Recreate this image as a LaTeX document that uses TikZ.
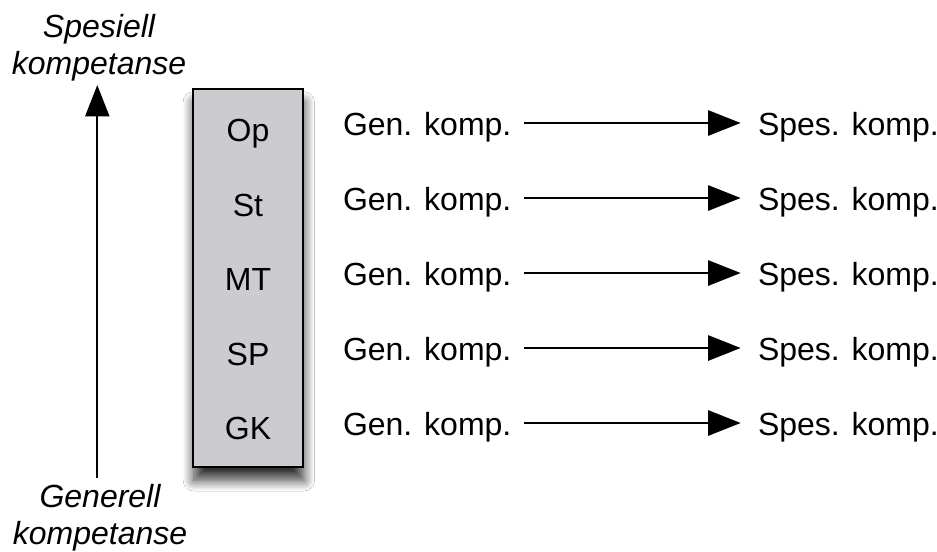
\documentclass[tikz,border=0pt]{standalone}
\usepackage{fontspec}
\setmainfont{Liberation Sans}
\usetikzlibrary{arrows.meta,shadows.blur}
\definecolor{stackgray}{RGB}{204,203,208}
\begin{document}
\begin{tikzpicture}[x=0.75pt,y=-0.75pt,
  every node/.style={inner sep=0pt,outer sep=0pt,font=\fontsize{24}{27.75}\selectfont},
  axislabel/.style={align=center,font=\fontsize{24}{27.75}\selectfont\itshape},
  stackbox/.style={draw=black,line width=1.5pt,fill=stackgray,
    blur shadow={shadow xshift=1pt,shadow yshift=-10pt,shadow blur radius=8pt,
      shadow blur steps=12,shadow opacity=80}},
  level/.style={anchor=base},
  gen/.style={anchor=base west},
  spes/.style={anchor=base west},
  bigarrow/.style={line width=1.5pt,-{Triangle[length=24.5pt,width=19pt]}}
]
\useasboundingbox[fill=white] (0,0) rectangle (937,551);

% competence axis (base anchor sits on the last line)
\node[axislabel,anchor=base] (top) at (99,74) {Spesiell\\kompetanse};
\node[axislabel,anchor=base] (bottom) at (100,544) {Generell\\kompetanse};
\coordinate (axisbot) at (97.3,478);
\coordinate (axistop) at (97.3,85);
\draw[line width=1.5pt,-{Triangle[length=23.5pt,width=18pt]}] (axisbot) -- (axistop);

% stacked levels
\node[stackbox,minimum width=82.5pt,minimum height=283.5pt] (stack) at (247.5,278) {};
\foreach \lbl [count=\i from 0] in {Op,St,MT,SP,GK}
  \node[level] (lv\i) at (248,141.5+74.6*\i) {\lbl};

% general to special competence, one row per level
\foreach \i in {0,...,4}{
  \node[gen] (g\i) at (343,135+75*\i) {Gen. komp.};
  \node[spes] (s\i) at (758,135+75*\i) {Spes. komp.};
  \draw[bigarrow,shorten <=9.5pt,shorten >=13pt]
    ([yshift=9pt]g\i.base east) -- ([yshift=9pt]s\i.base west);
}
\end{tikzpicture}
\end{document}
